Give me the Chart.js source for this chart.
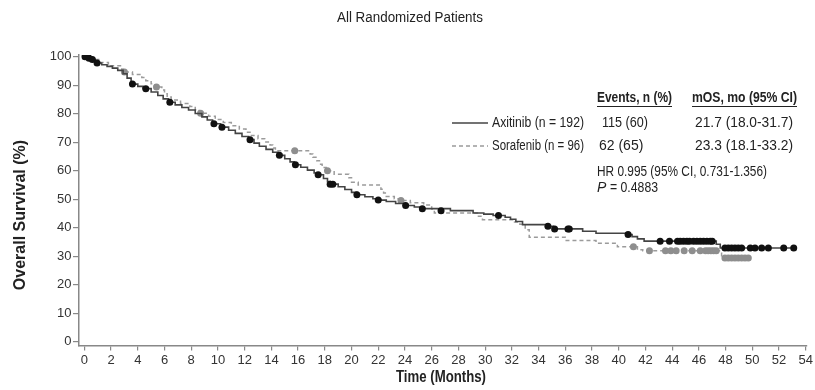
<!DOCTYPE html>
<html>
<head>
<meta charset="utf-8">
<script src="https://cdn.jsdelivr.net/npm/chart.js@4.4.1/dist/chart.umd.min.js"></script>
<style>
  html, body { margin: 0; padding: 0; background: #fff; }
  #wrap { width: 815px; height: 390px; }
</style>
</head>
<body>
<div id="wrap"><canvas id="osChart" width="815" height="390"></canvas></div>
<script>
// Kaplan-Meier curve, Axitinib (time in months, survival %)
const axiTimes = [0, 0.3, 0.5, 0.8, 0.9, 1.3, 1.7, 2.1, 2.5, 2.9, 3.2, 3.5, 4.0, 4.4, 5.0, 5.5, 5.9, 6.3, 6.8, 7.3,
  7.8, 8.3, 8.8, 9.2, 9.6, 10.2, 10.8, 11.3, 11.8, 12.3, 12.7, 13.1, 13.6, 14.1, 14.5, 15.0, 15.4, 15.7, 16.2, 16.7,
  17.2, 17.5, 17.9, 18.2, 18.4, 19.0, 19.5, 20.0, 20.4, 21.0, 21.6, 22.0, 22.6, 23.3, 24.0, 24.7, 25.2, 27.4, 29.1, 29.9,
  30.6, 31.5, 31.9, 32.3, 32.8, 34.6, 35.1, 37.3, 38.3, 40.6, 41.0, 41.4, 41.9, 47.3, 47.6, 53.2];
const axiSurv = [100, 99.5, 99.0, 98.3, 97.8, 97.2, 96.6, 96.0, 95.2, 94.0, 92.5, 90.4, 89.6, 88.8, 87.6, 86.4, 85.2, 84.0, 83.1, 82.2,
  81.3, 80.1, 78.9, 77.8, 76.5, 75.3, 74.2, 73.1, 72.0, 70.9, 69.7, 68.6, 67.5, 66.5, 65.4, 64.2, 63.1, 62.1, 61.2, 60.2,
  59.2, 58.6, 57.3, 56.2, 55.3, 54.4, 53.4, 52.4, 51.6, 50.9, 50.2, 49.7, 49.2, 48.5, 47.8, 47.3, 46.7, 46.0, 45.2, 44.8,
  44.3, 43.7, 43.0, 42.2, 41.1, 40.5, 39.6, 38.8, 38.1, 37.6, 36.9, 36.1, 35.3, 34.2, 32.9, 32.9];

// Censored patients, Axitinib
const axiCensorTimes = [0.05, 0.35, 0.6, 0.95, 3.6, 4.6, 6.4, 9.7, 10.3, 12.4, 14.6, 15.8, 17.5, 18.4, 18.6, 20.4, 22.0, 24.05,
  25.3, 26.7, 31.0, 34.7, 35.2, 36.2, 36.3, 40.7, 43.1, 43.8, 44.4, 44.6, 44.85, 45.1, 45.3, 45.6, 45.85, 46.1, 46.35, 46.6,
  46.85, 47.0, 47.95, 48.2, 48.45, 48.7, 48.95, 49.2, 49.85, 50.2, 50.7, 51.2, 52.35, 53.1];
const axiCensorSurv = [100, 99.5, 99.0, 97.8, 90.4, 88.8, 84.0, 76.5, 75.3, 70.9, 65.4, 62.1, 58.6, 55.3, 55.3, 51.6, 49.7, 47.8,
  46.7, 46.0, 44.3, 40.5, 39.6, 39.6, 39.6, 37.6, 35.3, 35.3, 35.3, 35.3, 35.3, 35.3, 35.3, 35.3, 35.3, 35.3, 35.3, 35.3,
  35.3, 35.3, 32.9, 32.9, 32.9, 32.9, 32.9, 32.9, 32.9, 32.9, 32.9, 32.9, 32.9, 32.9];

// Kaplan-Meier curve, Sorafenib
const soraTimes = [0, 0.6, 1.2, 1.8, 2.8, 2.9, 3.6, 4.3, 4.6, 5.0, 5.3, 5.8, 6.0, 6.2, 6.5, 7.2, 7.9, 8.3, 8.6, 9.3,
  9.8, 10.4, 11.0, 11.6, 12.1, 12.4, 13.0, 13.5, 13.9, 14.1, 14.3, 16.9, 17.1, 17.4, 17.6, 17.8, 18.1, 18.7, 19.8, 20.0,
  20.5, 22.2, 22.4, 22.6, 23.2, 23.6, 24.4, 25.4, 26.0, 26.2, 29.5, 29.8, 32.2, 32.6, 33.0, 33.3, 36.0, 38.3, 39.9, 41.4,
  41.8, 47.7, 49.7];
const soraSurv = [100, 99.0, 98.0, 96.8, 95.6, 94.6, 93.8, 92.7, 91.6, 90.5, 89.4, 88.3, 87.0, 85.9, 84.8, 83.6, 82.5, 81.4, 80.2, 79.1,
  78.0, 76.9, 75.8, 74.6, 73.5, 72.4, 71.2, 70.1, 69.0, 68.0, 67.0, 65.9, 64.7, 63.5, 62.3, 61.1, 60.0, 58.8, 57.5, 56.0,
  55.0, 53.5, 52.2, 51.0, 50.2, 49.6, 48.8, 48.0, 46.6, 45.2, 44.0, 42.8, 42.0, 41.2, 39.3, 36.7, 35.5, 34.6, 33.3, 32.3,
  31.9, 29.4, 29.4];

// Censored patients, Sorafenib
const soraCensorTimes = [3.0, 5.4, 8.7, 15.75, 18.2, 23.7, 41.1, 42.3, 43.5, 43.9, 44.3, 44.9, 45.5, 46.1, 46.5, 46.7, 46.9,
  47.1, 47.3, 47.95, 48.2, 48.45, 48.7, 48.95, 49.2, 49.45, 49.7];
const soraCensorSurv = [94.6, 89.4, 80.2, 67.0, 60.0, 49.6, 33.3, 31.9, 31.9, 31.9, 31.9, 31.9, 31.9, 31.9, 31.9, 31.9, 31.9,
  31.9, 31.9, 29.4, 29.4, 29.4, 29.4, 29.4, 29.4, 29.4, 29.4];

const xTicks = [0, 2, 4, 6, 8, 10, 12, 14, 16, 18, 20, 22, 24, 26, 28, 30, 32, 34, 36, 38, 40, 42, 44, 46, 48, 50, 52, 54];
const yTicks = [0, 10, 20, 30, 40, 50, 60, 70, 80, 90, 100];

const seriesNames = ['Axitinib (n = 192)', 'Sorafenib (n = 96)'];
const eventsText = ['115 (60)', '62 (65)'];
const mosText = ['21.7 (18.0-31.7)', '23.3 (18.1-33.2)'];

const FONT = '"Liberation Sans", Arial, Helvetica, sans-serif';
const AXI_LINE = '#444444';
const AXI_DOT = '#111111';
const SORA_LINE = '#9b9b9b';
const SORA_DOT = '#8e8e8e';

function toPoints(xs, ys) {
  return xs.map((x, i) => ({ x: x, y: ys[i] }));
}

// text, legend and annotation block drawn on top of the chart
const annotations = {
  id: 'annotations',
  afterDraw(chart) {
    const ctx = chart.ctx;
    ctx.save();
    ctx.fillStyle = '#222';
    ctx.textBaseline = 'middle';

    ctx.font = '14px ' + FONT;
    ctx.textAlign = 'center';
    ctx.fillText('All Randomized Patients', 410, 18, 146);

    // axis titles
    ctx.font = 'bold 16px ' + FONT;
    ctx.fillText('Time (Months)', 441, 378, 90);
    ctx.save();
    ctx.translate(21, 215);
    ctx.rotate(-Math.PI / 2);
    ctx.fillText('Overall Survival (%)', 0, 0, 156);
    ctx.restore();

    // table headers
    ctx.textAlign = 'left';
    ctx.font = 'bold 14px ' + FONT;
    ctx.fillText('Events, n (%)', 597, 98, 75);
    ctx.fillText('mOS, mo (95% CI)', 692, 98, 105);
    ctx.strokeStyle = '#222';
    ctx.lineWidth = 1;
    ctx.beginPath();
    ctx.moveTo(597, 106.5); ctx.lineTo(672, 106.5);
    ctx.moveTo(692, 106.5); ctx.lineTo(797, 106.5);
    ctx.stroke();

    // legend rows
    const rowY = [123, 146];
    ctx.lineWidth = 1.5;
    ctx.strokeStyle = AXI_LINE;
    ctx.beginPath(); ctx.moveTo(452, rowY[0]); ctx.lineTo(488, rowY[0]); ctx.stroke();
    ctx.strokeStyle = SORA_LINE;
    ctx.setLineDash([4, 3]);
    ctx.beginPath(); ctx.moveTo(452, rowY[1]); ctx.lineTo(488, rowY[1]); ctx.stroke();
    ctx.setLineDash([]);

    ctx.font = '14px ' + FONT;
    ctx.fillStyle = '#222';
    for (let i = 0; i < 2; i++) {
      ctx.fillText(seriesNames[i], 492, rowY[i], 92);
      ctx.fillText(eventsText[i], i === 0 ? 602 : 599, rowY[i], 46);
      ctx.fillText(mosText[i], 695, rowY[i], 98);
    }
    ctx.fillText('HR 0.995 (95% CI, 0.731-1.356)', 597, 172, 170);
    ctx.font = 'italic 14px ' + FONT;
    ctx.fillText('P', 597, 188);
    ctx.font = '14px ' + FONT;
    ctx.fillText('= 0.4883', 610, 188, 48);
    ctx.restore();
  }
};

new Chart(document.getElementById('osChart'), {
  type: 'line',
  data: {
    datasets: [
      {
        label: 'Axitinib censored',
        data: toPoints(axiCensorTimes, axiCensorSurv),
        showLine: false,
        pointRadius: 3.5,
        pointBackgroundColor: AXI_DOT,
        pointBorderWidth: 0,
        order: 0
      },
      {
        label: 'Axitinib',
        data: toPoints(axiTimes, axiSurv),
        borderColor: AXI_LINE,
        borderWidth: 1.6,
        stepped: true,
        pointRadius: 0,
        fill: false,
        order: 1
      },
      {
        label: 'Sorafenib censored',
        data: toPoints(soraCensorTimes, soraCensorSurv),
        showLine: false,
        pointRadius: 3.5,
        pointBackgroundColor: SORA_DOT,
        pointBorderWidth: 0,
        order: 2
      },
      {
        label: 'Sorafenib',
        data: toPoints(soraTimes, soraSurv),
        borderColor: SORA_LINE,
        borderWidth: 1.5,
        borderDash: [4, 3],
        stepped: true,
        pointRadius: 0,
        fill: false,
        order: 3
      }
    ]
  },
  options: {
    responsive: false,
    animation: false,
    devicePixelRatio: 1,
    layout: {
      padding: { top: 55, right: 7, left: 0, bottom: 0 }
    },
    plugins: {
      legend: { display: false },
      tooltip: { enabled: false }
    },
    scales: {
      x: {
        type: 'linear',
        min: -0.4,
        max: 54.1,
        afterBuildTicks: (scale) => { scale.ticks = xTicks.map(v => ({ value: v })); },
        afterFit: (scale) => { scale.height = 44.5; },
        grid: { drawOnChartArea: false, drawTicks: true, tickLength: 5, color: '#888', lineWidth: 1.2 },
        border: { display: true, color: '#888', width: 1.5 },
        ticks: { autoSkip: false, maxRotation: 0, padding: 2, color: '#333', font: { family: FONT, size: 13 } }
      },
      y: {
        min: -1.3,
        max: 100.6,
        afterBuildTicks: (scale) => { scale.ticks = yTicks.map(v => ({ value: v })); },
        afterFit: (scale) => { scale.width = 79; },
        grid: { drawOnChartArea: false, drawTicks: true, tickLength: 6, color: '#888', lineWidth: 1.2 },
        border: { display: true, color: '#888', width: 1.5 },
        ticks: { padding: 1.5, color: '#333', font: { family: FONT, size: 13 } }
      }
    }
  },
  plugins: [annotations]
});
</script>
</body>
</html>
